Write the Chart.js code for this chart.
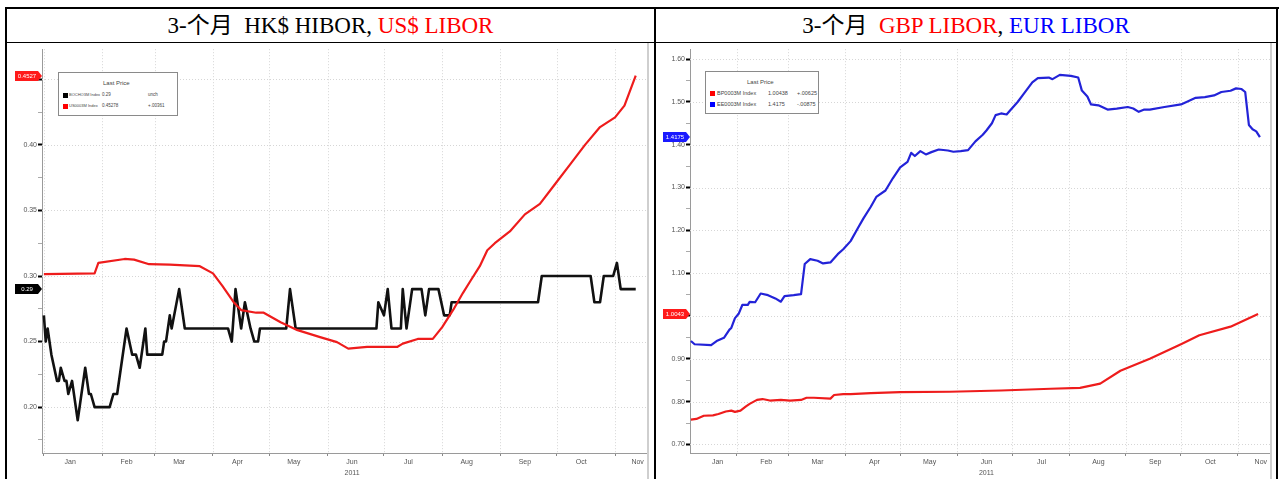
<!DOCTYPE html>
<html><head><meta charset="utf-8">
<script src="https://cdn.jsdelivr.net/npm/chart.js@4.4.0/dist/chart.umd.min.js"></script>
<style>
html,body{margin:0;padding:0;background:#fff;width:1280px;height:479px;overflow:hidden;position:relative;}
.b{position:absolute;background:#000;}
.title{position:absolute;top:9px;height:33px;line-height:33px;text-align:center;white-space:nowrap;}
.title span.t{display:inline-block;font-family:"Liberation Serif","Noto Sans CJK SC",serif;font-size:23px;color:#000;}
.red{color:#ff0000;}
.blue{color:#0000ff;}
canvas{position:absolute;}
.frame{position:absolute;background:#cfcfcf;}
.lg{position:absolute;border:1px solid #8a8a8a;background:#fff;font-family:"Liberation Sans Narrow","Liberation Sans",sans-serif;color:#444;}
.lg span{position:absolute;white-space:nowrap;line-height:1;}
.lg i{position:absolute;width:5px;height:5px;}
</style>
</head><body>

<div class="b" style="left:5px;top:7px;width:1274px;height:2px"></div>
<div class="b" style="left:5px;top:7px;width:2px;height:472px"></div>
<div class="b" style="left:654px;top:7px;width:2px;height:472px"></div>
<div class="b" style="left:1276px;top:7px;width:2px;height:472px"></div>
<div class="b" style="left:5px;top:42px;width:1273px;height:1px"></div>

<div class="title" style="left:7px;width:647px"><span class="t">3-个月&nbsp;&nbsp;HK$ HIBOR, <span class="red">US$ LIBOR</span></span></div>
<div class="title" style="left:656px;width:620px"><span class="t">3-个月&nbsp;&nbsp;<span class="red">GBP LIBOR</span>, <span class="blue">EUR LIBOR</span></span></div>

<canvas id="c1" width="643" height="435" style="left:10px;top:44px"></canvas>
<canvas id="c2" width="618" height="435" style="left:658px;top:44px"></canvas>
<div class="frame" style="left:647px;top:43px;width:2px;height:436px"></div>
<div class="frame" style="left:1270px;top:43px;width:2px;height:436px"></div>

<div class="lg" style="left:58px;top:72px;width:118px;height:42px;font-size:4.5px">
  <span style="left:44px;top:7px;font-size:6px">Last Price</span>
  <i style="left:4px;top:20px;background:#000"></i>
  <span style="left:10px;top:20px;font-size:4px">BOCHO3M Index</span>
  <span style="left:43px;top:20px">0.29</span>
  <span style="left:89px;top:20px">unch</span>
  <i style="left:4px;top:31px;background:#ff0000"></i>
  <span style="left:10px;top:31px;font-size:4px">US0003M Index</span>
  <span style="left:43px;top:31px">0.45278</span>
  <span style="left:89px;top:31px">+.00361</span>
</div>
<div class="lg" style="left:705px;top:71px;width:112px;height:41px;font-size:5.5px">
  <span style="left:41px;top:7px;font-size:6px">Last Price</span>
  <i style="left:4px;top:19px;background:#ff0000"></i>
  <span style="left:11px;top:19px">BP0003M Index</span>
  <span style="left:62px;top:19px">1.00438</span>
  <span style="left:91px;top:19px">+.00625</span>
  <i style="left:4px;top:30px;background:#0000ff"></i>
  <span style="left:11px;top:30px">EE0003M Index</span>
  <span style="left:62px;top:30px">1.4175</span>
  <span style="left:91px;top:30px">-.00875</span>
</div>

<script>
// ---------- data (x = day of year 2011, y = rate %) ----------
const hiborDays = [0,1,2,3,4,7,8,9,11,12,13,15,18,22,24,25,27,35,37,39,44,47,49,51,54,55,63,64,65,67,68,72,75,98,100,102,105,107,110,112,114,115,129,131,134,177,178,181,183,185,190,191,193,196,201,203,205,210,213,216,217,263,265,291,293,296,298,303,305,307,315];
const hiborValues = [0.27,0.25,0.26,0.25,0.24,0.22,0.22,0.23,0.22,0.22,0.21,0.22,0.19,0.23,0.21,0.21,0.20,0.20,0.21,0.21,0.26,0.24,0.24,0.23,0.26,0.24,0.24,0.25,0.25,0.27,0.26,0.29,0.26,0.26,0.25,0.29,0.26,0.28,0.26,0.25,0.25,0.26,0.26,0.29,0.26,0.26,0.28,0.27,0.29,0.26,0.26,0.29,0.26,0.29,0.29,0.27,0.29,0.29,0.27,0.27,0.28,0.28,0.30,0.30,0.28,0.28,0.30,0.30,0.31,0.29,0.29];

const usLiborDays = [0,27,29,43,48,56,67,83,90,95,101,105,113,117,126,135,147,156,162,172,188,191,199,207,212,218,223,227,232,236,240,248,256,264,272,280,288,296,304,309,315];
const usLiborValues = [0.3015,0.302,0.31,0.313,0.3125,0.309,0.3087,0.3075,0.302,0.2925,0.28,0.274,0.272,0.272,0.2647,0.2587,0.2534,0.2496,0.2446,0.2459,0.2459,0.2484,0.252,0.252,0.261,0.2745,0.287,0.2962,0.3075,0.3196,0.325,0.334,0.347,0.355,0.37,0.385,0.40,0.4136,0.421,0.43,0.4528];

const eurDays = [6,8,17,20,24,27,28,30,32,34,37,38,41,44,48,52,55,57,62,66,68,71,75,78,82,86,89,93,97,100,104,107,112,116,120,124,126,128,131,134,137,141,146,149,153,157,161,165,167,170,172,175,178,180,184,187,192,195,201,203,207,213,217,219,222,224,228,233,238,244,247,250,253,256,264,273,276,281,286,291,295,300,303,306,308,310,312,314,316];
const eurValues = [0.9415,0.934,0.932,0.9415,0.949,0.968,0.972,0.995,1.005,1.0257,1.026,1.033,1.032,1.0525,1.0486,1.041,1.0333,1.0463,1.0486,1.051,1.1213,1.1327,1.1289,1.1227,1.125,1.1443,1.1557,1.1748,1.2053,1.228,1.255,1.278,1.293,1.3216,1.3468,1.36,1.381,1.3736,1.385,1.3773,1.3826,1.3888,1.3865,1.3835,1.385,1.3873,1.4078,1.4232,1.4332,1.45,1.469,1.473,1.4706,1.4805,1.4997,1.517,1.5454,1.5553,1.5568,1.553,1.563,1.5607,1.5568,1.5263,1.5125,1.494,1.492,1.482,1.4844,1.488,1.4844,1.4767,1.482,1.482,1.488,1.494,1.4997,1.5095,1.511,1.515,1.523,1.526,1.5315,1.530,1.523,1.446,1.436,1.431,1.4175];

const gbpDays = [6,9,13,18,21,25,28,30,33,36,38,42,45,49,55,60,66,69,73,82,84,89,93,104,120,147,175,202,218,229,240,256,273,283,300,315];
const gbpValues = [0.758,0.7596,0.767,0.768,0.771,0.777,0.779,0.776,0.779,0.789,0.7947,0.804,0.806,0.8025,0.804,0.8025,0.804,0.809,0.809,0.807,0.8154,0.8177,0.8177,0.82,0.822,0.823,0.826,0.83,0.832,0.842,0.872,0.90,0.934,0.955,0.975,1.0044];

const monthLabels = ['Jan','Feb','Mar','Apr','May','Jun','Jul','Aug','Sep','Oct','Nov'];
const monthStartDays = [0,31,59,90,120,151,181,212,243,273,304,334];
const yearLabel = '2011';
const leftYTicks = [0.20,0.25,0.30,0.35,0.40,0.45];
const rightYTicks = [0.70,0.80,0.90,1.00,1.10,1.20,1.30,1.40,1.50,1.60];

// ---------- helpers ----------
const pts = (xs, ys) => xs.map((x, i) => ({x, y: ys[i]}));
const tickFont = {family: "'Liberation Sans Narrow','Liberation Sans',sans-serif", size: 7};

const gridPlugin = {
  id: 'bbgGrid',
  beforeDatasetsDraw(chart, args, opts) {
    const {ctx, chartArea: a, scales} = chart;
    ctx.save();
    ctx.strokeStyle = '#d6d6d6'; ctx.lineWidth = 1; ctx.setLineDash([1, 2]);
    opts.yLines.forEach(v => {
      const y = Math.round(scales.y.getPixelForValue(v)) + 0.5;
      ctx.beginPath(); ctx.moveTo(a.left, y); ctx.lineTo(a.right, y); ctx.stroke();
    });
    opts.xLines.forEach(d => {
      if (d <= scales.x.min || d >= scales.x.max) return;
      const x = Math.round(scales.x.getPixelForValue(d)) + 0.5;
      ctx.beginPath(); ctx.moveTo(x, a.top); ctx.lineTo(x, a.bottom); ctx.stroke();
    });
    ctx.restore();
  }
};

const tagPlugin = {
  id: 'lastTags',
  afterDraw(chart, args, opts) {
    const {ctx, chartArea: a, scales} = chart;
    ctx.save();
    opts.tags.forEach(t => {
      const y = Math.round(scales.y.getPixelForValue(t.value));
      const r = a.left, l = a.left - 27, h = 5;
      ctx.fillStyle = t.color;
      ctx.beginPath();
      ctx.moveTo(l, y - h); ctx.lineTo(r - 4, y - h); ctx.lineTo(r, y); ctx.lineTo(r - 4, y + h); ctx.lineTo(l, y + h);
      ctx.closePath(); ctx.fill();
      ctx.fillStyle = '#fff';
      ctx.font = "6px 'Liberation Sans Narrow','Liberation Sans',sans-serif";
      ctx.textAlign = 'center'; ctx.textBaseline = 'middle';
      ctx.fillText(t.text, l + 12, y);
    });
    ctx.restore();
  }
};

function makeChart(id, cfg) {
  const majors = cfg.yTicks;
  const step = majors[1] - majors[0];
  const yAll = [];
  majors.forEach(v => { yAll.push(v); });
  yAll.push(majors[0] - step / 2);
  majors.forEach(v => yAll.push(+(v + step / 2).toFixed(4)));
  const allY = yAll.filter(v => v >= cfg.ymin && v <= cfg.ymax).sort((p, q) => p - q);
  const isMajor = v => majors.some(m => Math.abs(m - v) < 1e-6);

  const labelPos = [];
  const labelTxt = [];
  monthLabels.forEach((m, i) => {
    const pos = Math.min(Math.max(monthStartDays[i] + cfg.labelOffset, cfg.xmin + 15), cfg.xmax - 5);
    labelPos.push(pos);
    labelTxt.push(m === 'Jun' ? ['Jun', yearLabel] : m);
  });

  return new Chart(document.getElementById(id), {
    type: 'line',
    data: { datasets: cfg.datasets.map(d => ({
      data: d.data, borderColor: d.color, borderWidth: d.width, pointRadius: 0,
      tension: 0, fill: false, borderJoinStyle: 'round', xAxisID: 'x', yAxisID: 'y'
    })) },
    options: {
      responsive: false, animation: false, devicePixelRatio: 1,
      layout: { padding: { left: 0, top: 0, bottom: 0, right: 6 } },
      plugins: { legend: { display: false }, tooltip: { enabled: false },
        bbgGrid: { yLines: majors, xLines: monthStartDays },
        lastTags: { tags: cfg.tags } },
      scales: {
        x: {
          type: 'linear', position: 'bottom', min: cfg.xmin, max: cfg.xmax, weight: 0,
          afterBuildTicks: s => { s.ticks = monthStartDays.filter(d => d > cfg.xmin && d < cfg.xmax).map(v => ({value: v})); },
          afterFit: s => { s.height = 3; },
          ticks: { display: false },
          grid: { drawOnChartArea: false, drawTicks: true, tickLength: 3, tickColor: '#888' },
          border: { color: '#9a9a9a', width: 1 }
        },
        x2: {
          type: 'linear', position: 'bottom', min: cfg.xmin, max: cfg.xmax, weight: 1,
          afterBuildTicks: s => { s.ticks = labelPos.map(v => ({value: v})); },
          afterFit: s => { s.height = 23; },
          ticks: { autoSkip: false, maxRotation: 0, padding: 0, color: '#555',
            font: Object.assign({}, tickFont, {lineHeight: 1.6}),
            callback: (v, i) => labelTxt[i] },
          grid: { display: false, drawTicks: false, tickLength: 0 }, border: { display: false }
        },
        y: {
          type: 'linear', min: cfg.ymin, max: cfg.ymax,
          afterBuildTicks: s => { s.ticks = allY.map(v => ({value: v})); },
          afterFit: s => { s.width = 32; },
          ticks: { autoSkip: false, padding: 1, color: '#555', font: tickFont,
            callback: v => isMajor(v) ? v.toFixed(2) : '' },
          grid: { drawOnChartArea: false, drawTicks: true, tickLength: 4,
            tickColor: c => isMajor(c.tick.value) ? '#000' : '#aaa',
            tickWidth: c => isMajor(c.tick.value) ? 2 : 1 },
          border: { color: '#9a9a9a', width: 1 }
        }
      }
    },
    plugins: [gridPlugin, tagPlugin]
  });
}

makeChart('c1', {
  xmin: -1, xmax: 321, ymin: 0.165, ymax: 0.473, yTicks: leftYTicks, labelOffset: 13,
  datasets: [
    { data: pts(usLiborDays, usLiborValues), color: '#ee1c1c', width: 2.2 },
    { data: pts(hiborDays, hiborValues), color: '#111111', width: 2.6 }
  ],
  tags: [
    { value: usLiborValues[usLiborValues.length - 1], color: '#ff1a1a', text: '0.4527' },
    { value: hiborValues[hiborValues.length - 1], color: '#000000', text: '0.29' }
  ]
});

makeChart('c2', {
  xmin: 5.5, xmax: 321.5, ymin: 0.68, ymax: 1.623, yTicks: rightYTicks, labelOffset: 16,
  datasets: [
    { data: pts(gbpDays, gbpValues), color: '#ee1c1c', width: 2.2 },
    { data: pts(eurDays, eurValues), color: '#2323d8', width: 2.2 }
  ],
  tags: [
    { value: eurValues[eurValues.length - 1], color: '#1a1aff', text: '1.4175' },
    { value: gbpValues[gbpValues.length - 1], color: '#ff1a1a', text: '1.0043' }
  ]
});
</script>
</body></html>
